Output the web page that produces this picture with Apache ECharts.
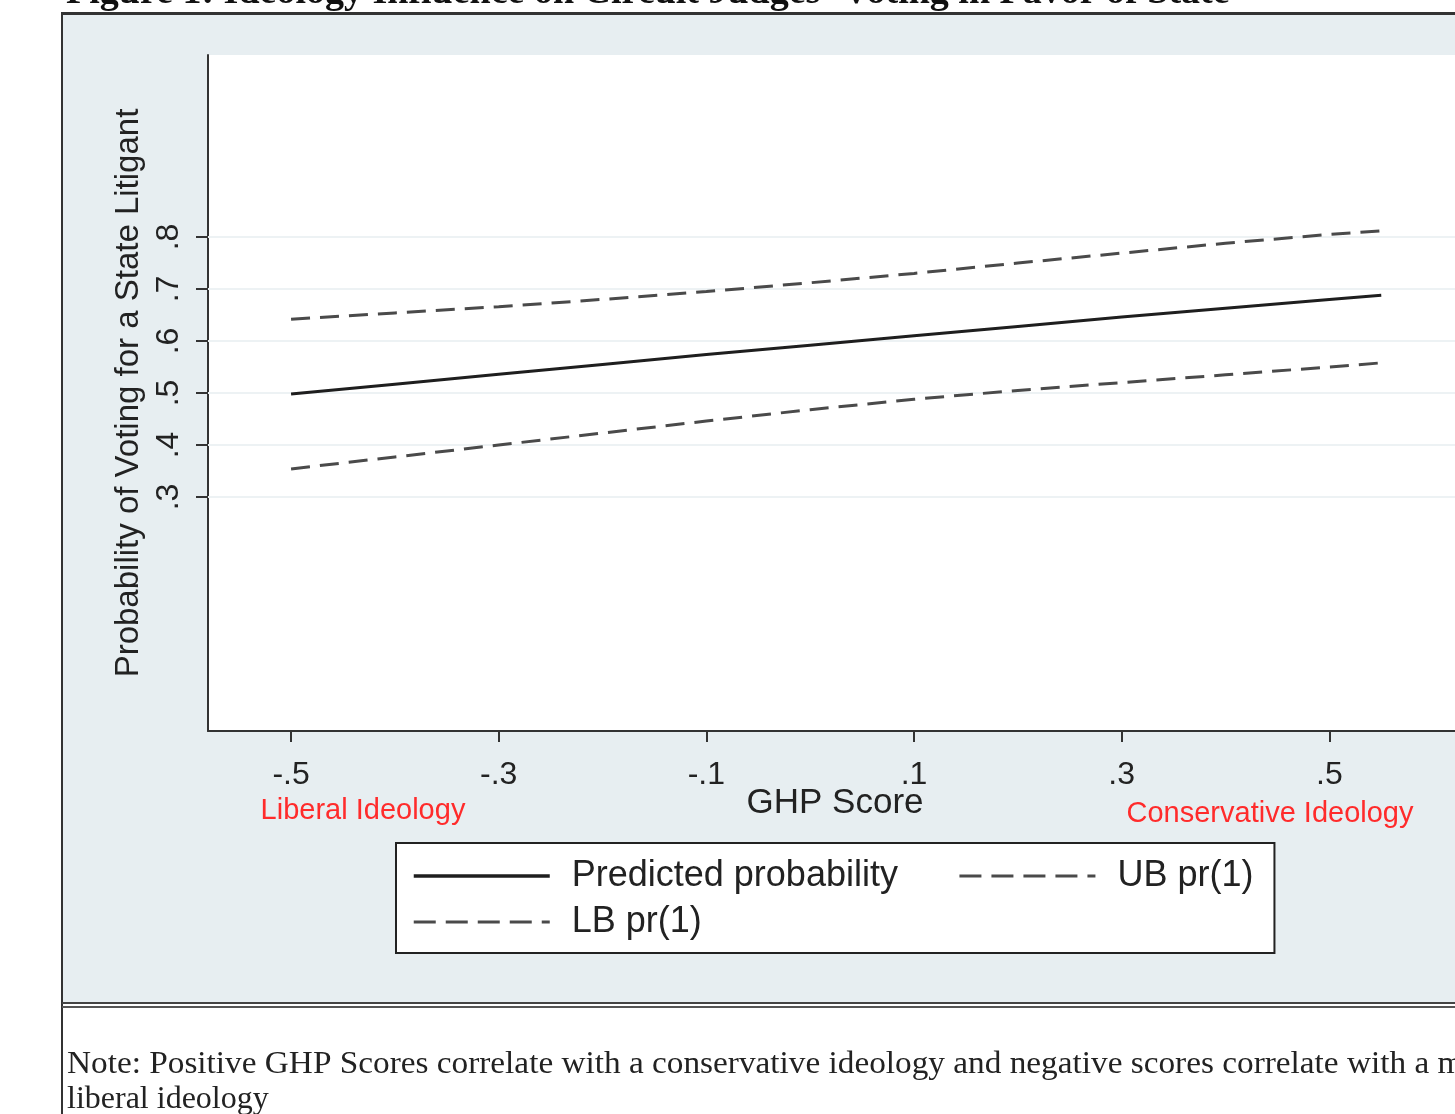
<!DOCTYPE html>
<html>
<head>
<meta charset="utf-8">
<title>GHP Score</title>
<script src="https://cdn.jsdelivr.net/npm/echarts@6/dist/echarts.min.js"></script>
<style>
    html, body {margin: 0; padding: 0; background: #fff; overflow: hidden;}
    #panel {position: absolute; left: 63px; top: 15px; width: 1600px; height: 988px; background: #e7eef1;}
    #topRule {position: absolute; left: 62px; top: 12px; width: 1600px; height: 3px; background: #333;}
    #leftRule {position: absolute; left: 61px; top: 12px; width: 2px; height: 1110px; background: #333;}
    #bottomRule1 {position: absolute; left: 62px; top: 1002px; width: 1600px; height: 2px; background: #444;}
    #bottomRule2 {position: absolute; left: 62px; top: 1006px; width: 1600px; height: 2px; background: #555;}
    #ghpChart {position: absolute; left: 0; top: 0; width: 1600px; height: 1114px;}
</style>
</head>
<body>
<div id="panel"></div>
<div id="topRule"></div>
<div id="leftRule"></div>
<div id="bottomRule1"></div>
<div id="bottomRule2"></div>
<div id="ghpChart"></div>
<script>
// GHP score values on the x axis
var ghpScores = [-0.5, -0.4, -0.3, -0.2, -0.1, 0, 0.1, 0.2, 0.3, 0.4, 0.5, 0.55];
// predicted probability and its bounds
var predicted = [0.498, 0.517, 0.536, 0.555, 0.574, 0.592, 0.610, 0.628, 0.646, 0.663, 0.680, 0.688];
var upperBound = [0.642, 0.654, 0.666, 0.680, 0.695, 0.712, 0.730, 0.750, 0.769, 0.788, 0.805, 0.812];
var lowerBound = [0.354, 0.377, 0.400, 0.423, 0.446, 0.468, 0.488, 0.505, 0.520, 0.535, 0.550, 0.558];
// tick labels
var xTicks = [-0.5, -0.3, -0.1, 0.1, 0.3, 0.5];
var yTicks = [0.3, 0.4, 0.5, 0.6, 0.7, 0.8];
var seriesNames = ['Predicted probability', 'UB pr(1)', 'LB pr(1)'];

var FONT = '"Liberation Sans", Arial, sans-serif';
var SERIF = '"Liberation Serif", "DejaVu Serif", serif';

/**
 * stata style tick text: .3, -.5
 */
function shortNum(v) {
    var s = String(Math.round(v * 10) / 10);
    return s.replace('0.', '.');
}

function pairs(ys) {
    var out = [];
    for (var i = 0; i < ghpScores.length; i++) {
        out.push([ghpScores[i], ys[i]]);
    }
    return out;
}

function ghpChart() {
    var myChart = echarts.init(document.getElementById('ghpChart'));
    var option = {
        animation: false,
        grid: {
            left: 208,
            top: 55,
            right: 63,
            bottom: 383,
            show: true,
            backgroundColor: '#fff',
            borderWidth: 0
        },
        legend: {
            left: 396,
            top: 843,
            width: 900,
            orient: 'horizontal',
            itemWidth: 136,
            itemHeight: 14,
            itemGap: 6,
            backgroundColor: '#fff',
            borderColor: '#222',
            borderWidth: 2,
            padding: [13, 21, 11, 16],
            itemStyle: {opacity: 0},
            lineStyle: {width: 3},
            textStyle: {
                fontFamily: FONT,
                fontSize: 36,
                lineHeight: 40,
                color: '#222',
                padding: [0, 0, 0, 17]
            },
            data: [
                {name: seriesNames[0], textStyle: {padding: [0, 54, 0, 17]}, lineStyle: {width: 3.5, type: 'solid'}},
                {name: seriesNames[1], lineStyle: {width: 3, type: [22, 10]}},
                {name: seriesNames[2], lineStyle: {width: 3, type: [22, 10]}}
            ]
        },
        xAxis: {
            type: 'value',
            min: -0.58,
            max: 0.7,
            axisLine: {onZero: false, lineStyle: {color: '#333', width: 2}},
            axisTick: {
                length: 11,
                lineStyle: {color: '#333', width: 2},
                customValues: xTicks
            },
            axisLabel: {
                customValues: xTicks,
                formatter: shortNum,
                fontFamily: FONT,
                fontSize: 32,
                color: '#222',
                margin: 28
            },
            splitLine: {show: false}
        },
        yAxis: {
            type: 'value',
            min: -0.15,
            max: 1.15,
            name: 'Probability of Voting for a State Litigant',
            nameLocation: 'middle',
            nameGap: 63,
            nameTextStyle: {fontFamily: FONT, fontSize: 33, color: '#222'},
            axisLine: {show: true, onZero: false, lineStyle: {color: '#333', width: 2}},
            axisTick: {
                show: true,
                length: 12,
                lineStyle: {color: '#333', width: 2},
                customValues: yTicks
            },
            axisLabel: {
                customValues: yTicks,
                formatter: shortNum,
                rotate: 90,
                fontFamily: FONT,
                fontSize: 32,
                color: '#222',
                margin: 23
            },
            splitLine: {show: false}
        },
        series: [
            {
                name: seriesNames[0],
                type: 'line',
                data: pairs(predicted),
                symbol: 'none',
                showSymbol: false,
                lineStyle: {color: '#1e1e1e', width: 3},
                itemStyle: {color: '#1e1e1e'},
                z: 5,
                markLine: {
                    silent: true,
                    symbol: 'none',
                    label: {show: false},
                    lineStyle: {color: '#edf2f4', width: 2, type: 'solid'},
                    data: yTicks.map(function (v) {
                        return {yAxis: v};
                    }),
                    z: 1
                }
            },
            {
                name: seriesNames[1],
                type: 'line',
                data: pairs(upperBound),
                symbol: 'none',
                showSymbol: false,
                lineStyle: {color: '#4a4a4a', width: 3, type: [19, 10]},
                itemStyle: {color: '#4a4a4a'},
                z: 4
            },
            {
                name: seriesNames[2],
                type: 'line',
                data: pairs(lowerBound),
                symbol: 'none',
                showSymbol: false,
                lineStyle: {color: '#4a4a4a', width: 3, type: [19, 10]},
                itemStyle: {color: '#4a4a4a'},
                z: 4
            }
        ],
        graphic: [
            {
                type: 'text',
                x: 66,
                y: 12,
                style: {
                    text: 'Figure 1: Ideology Influence on Circuit Judges\u2019 Voting in Favor of State',
                    font: 'bold 38px ' + SERIF,
                    fill: '#111',
                    verticalAlign: 'bottom'
                }
            },
            {
                type: 'text',
                x: 835,
                y: 803,
                style: {
                    text: 'GHP Score',
                    font: '35px ' + FONT,
                    fill: '#222',
                    align: 'center',
                    verticalAlign: 'middle'
                }
            },
            {
                type: 'text',
                x: 363,
                y: 811,
                style: {
                    text: 'Liberal Ideology',
                    font: '29px ' + FONT,
                    fill: '#ff2b2b',
                    align: 'center',
                    verticalAlign: 'middle'
                }
            },
            {
                type: 'text',
                x: 1270,
                y: 814,
                style: {
                    text: 'Conservative Ideology',
                    font: '29px ' + FONT,
                    fill: '#ff2b2b',
                    align: 'center',
                    verticalAlign: 'middle'
                }
            },
            {
                type: 'text',
                x: 67,
                y: 1065,
                style: {
                    text: 'Note: Positive GHP Scores correlate with a conservative ideology and negative scores correlate with a more',
                    font: '32px ' + SERIF,
                    fill: '#222',
                    verticalAlign: 'middle'
                },
                scaleX: 1.04
            },
            {
                type: 'text',
                x: 67,
                y: 1100,
                style: {
                    text: 'liberal ideology',
                    font: '32px ' + SERIF,
                    fill: '#222',
                    verticalAlign: 'middle'
                }
            }
        ]
    };
    if (option && typeof option === "object") {
        myChart.setOption(option, true);
    }
    resize(myChart);
}

function resize(chart) {
    window.addEventListener('resize', function () {
        chart.resize();
    });
}

ghpChart();
</script>
</body>
</html>
